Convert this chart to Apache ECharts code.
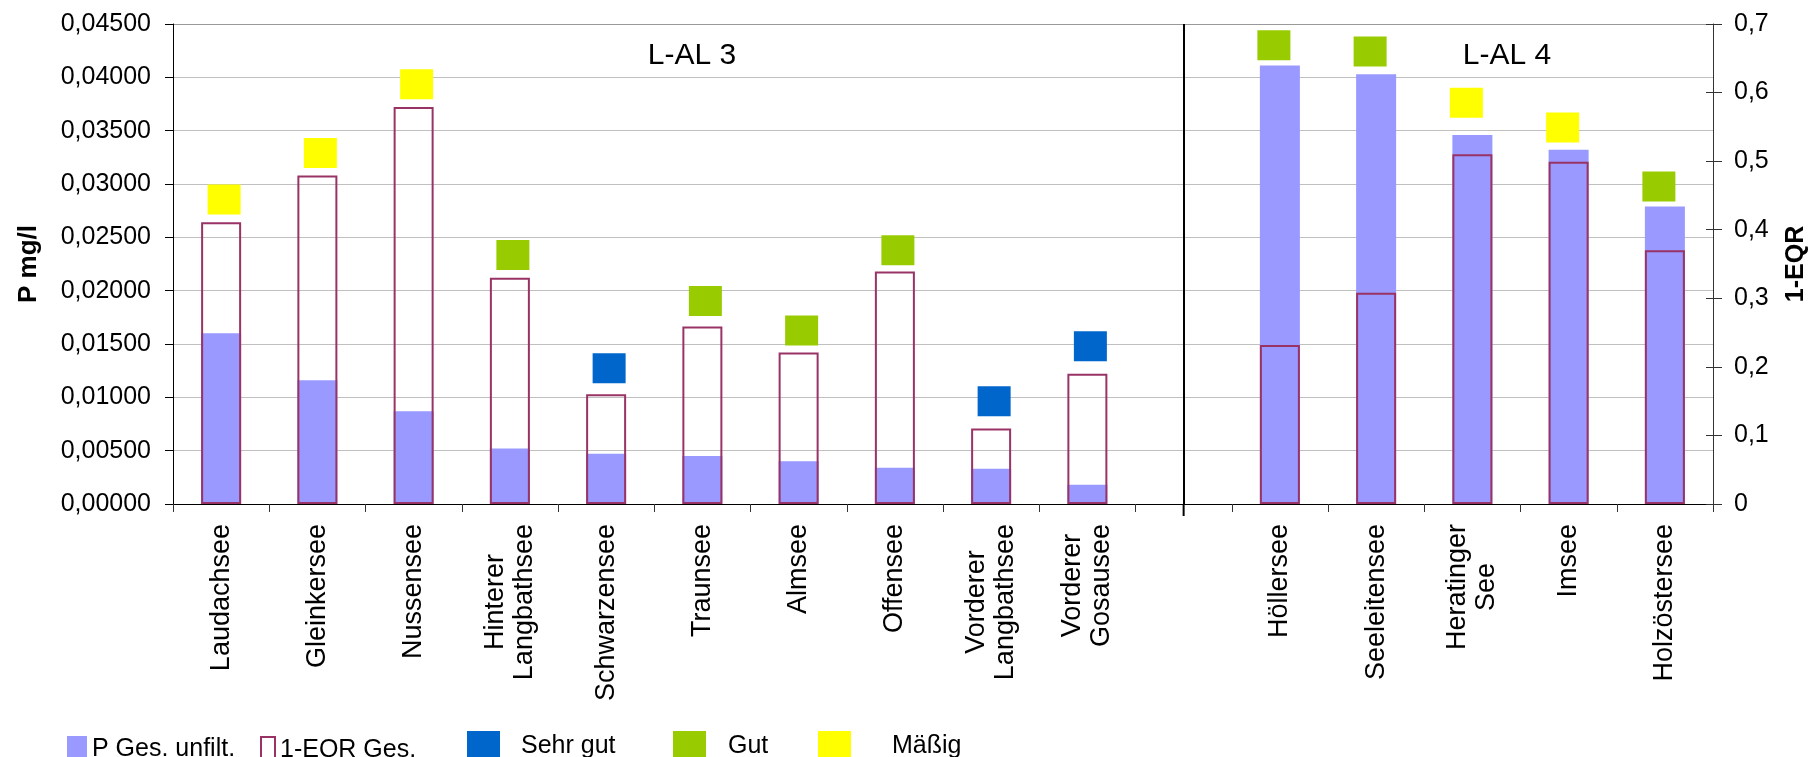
<!DOCTYPE html>
<html>
<head>
<meta charset="utf-8">
<script src="https://cdn.jsdelivr.net/npm/echarts@6/dist/echarts.min.js"></script>
<style>
html,body{margin:0;padding:0;background:#fff;}
#chart{width:1810px;height:757px;}
</style>
</head>
<body>
<div id="chart"></div>
<script>
// ---- data ----
const categories = ['Laudachsee','Gleinkersee','Nussensee','Hinterer\nLangbathsee','Schwarzensee','Traunsee','Almsee','Offensee','Vorderer\nLangbathsee','Vorderer\nGosausee','','Höllersee','Seeleitensee','Heratinger\nSee','Imsee','Holzöstersee'];
const pGes = [0.0160, 0.0116, 0.0087, 0.0052, 0.0047, 0.0045, 0.0040, 0.0034, 0.0033, 0.0018, null, 0.0411, 0.0403, 0.0346, 0.0332, 0.0279];
const eqrGes = [0.411, 0.479, 0.579, 0.330, 0.160, 0.259, 0.221, 0.339, 0.110, 0.190, null, 0.232, 0.308, 0.510, 0.499, 0.370];
const sehrGut = [null, null, null, null, 0.198, null, null, null, 0.150, 0.230, null, null, null, null, null, null];
const gut = [null, null, null, 0.363, null, 0.296, 0.253, 0.370, null, null, null, 0.669, 0.660, null, null, 0.463];
const maessig = [0.444, 0.512, 0.612, null, null, null, null, null, null, null, null, null, null, 0.585, 0.549, null];
const groupLabels = ['L-AL 3', 'L-AL 4'];
const dividerIndex = 10;

// ---- styles ----
const FONT = "'Liberation Sans', Arial, sans-serif";

const chart = echarts.init(document.getElementById('chart'), null, {renderer: 'canvas'});

function markerData(arr) {
  return arr.map((v, i) => ({value: v, symbolOffset: [i < dividerIndex ? 3 : -6, 0]}));
}
function markerSeries(name, color, arr) {
  return {
    name: name, type: 'scatter', xAxisIndex: 0, yAxisIndex: 1,
    symbol: 'rect', symbolSize: [33, 30],
    itemStyle: {color: color, opacity: 1},
    data: markerData(arr), z: 5
  };
}
function markerLegend(name, left, pad) {
  return {left: left, top: 726, itemWidth: 33, itemHeight: 30, itemGap: 0,
    textStyle: {fontSize: 25, fontFamily: FONT, color: '#000', padding: [0, 0, 0, pad]},
    data: [{name: name, icon: 'rect'}]};
}

const option = {
  animation: false,
  backgroundColor: '#fff',
  textStyle: {fontFamily: FONT},
  grid: {left: 173, right: 97, top: 24, bottom: 253, containLabel: false, outerBoundsMode: 'none'},
  legend: [
    {left: 62, top: 731, itemWidth: 20, itemHeight: 26, itemGap: 0,
     textStyle: {fontSize: 25, fontFamily: FONT, color: '#000'},
     data: [{name: 'P Ges. unfilt.', icon: 'rect'}]},
    {left: 255, top: 731, itemWidth: 14, itemHeight: 26, itemGap: 0,
     textStyle: {fontSize: 25, fontFamily: FONT, color: '#000'},
     data: [{name: '1-EQR Ges.', icon: 'rect', itemStyle: {color: '#fff', borderColor: '#993366', borderWidth: 2}}]},
    markerLegend('Sehr gut', 462, 16),
    markerLegend('Gut', 668, 17),
    markerLegend('Mäßig', 813, 36)
  ],
  xAxis: [{
    type: 'category', data: categories,
    axisLine: {show: true, lineStyle: {color: '#000', width: 1}},
    axisTick: {show: true, interval: 0, length: 8, lineStyle: {color: '#333'}},
    axisLabel: {
      interval: 0, rotate: 90, margin: 20, fontSize: 27, fontFamily: FONT, color: '#000', lineHeight: 29,
      formatter: function (v) {
        if (v.indexOf('\n') >= 0) return v.split('\n').map(l => '{c|' + l + '}').join('\n');
        return v;
      },
      rich: {c: {align: 'center', fontSize: 27, fontFamily: FONT, color: '#000', lineHeight: 29}}
    },
    splitLine: {show: false}
  }],
  yAxis: [{
    type: 'value', min: 0, max: 0.045, interval: 0.005, position: 'left',
    name: 'P mg/l', nameLocation: 'middle', nameGap: 131, nameRotate: 90,
    nameTextStyle: {fontSize: 26, fontWeight: 'bold', fontFamily: FONT, color: '#000'},
    axisLine: {show: true, lineStyle: {color: '#000', width: 1}},
    axisTick: {show: true, length: 8, lineStyle: {color: '#000'}},
    axisLabel: {margin: 22, fontSize: 25, fontFamily: FONT, color: '#000',
      formatter: v => v.toFixed(5).replace('.', ',')},
    splitLine: {show: true, lineStyle: {color: ['#c0c0c0','#c0c0c0','#c0c0c0','#c0c0c0','#c0c0c0','#c0c0c0','#c0c0c0','#c0c0c0','#c0c0c0','#999'], width: 1}}
  }, {
    type: 'value', min: 0, max: 0.7, interval: 0.1, position: 'right',
    name: '1-EQR', nameLocation: 'middle', nameGap: 71, nameRotate: 90,
    nameTextStyle: {fontSize: 25, fontWeight: 'bold', fontFamily: FONT, color: '#000'},
    axisLine: {show: true, lineStyle: {color: '#333', width: 1}},
    axisTick: {show: true, length: 9, lineStyle: {color: '#333'}},
    axisLabel: {margin: 21, fontSize: 25, fontFamily: FONT, color: '#000',
      formatter: v => v === 0 ? '0' : v.toFixed(1).replace('.', ',')},
    splitLine: {show: false}
  }, {
    // inner half of the crossing ticks on the right axis
    type: 'value', min: 0, max: 0.7, interval: 0.1, position: 'right',
    axisLine: {show: false},
    axisTick: {show: true, inside: true, length: 7, lineStyle: {color: '#333'}},
    axisLabel: {show: false},
    splitLine: {show: false}
  }],
  series: [
    {
      name: 'P Ges. unfilt.', type: 'bar', xAxisIndex: 0, yAxisIndex: 0,
      barWidth: 40, barGap: '-100%',
      itemStyle: {color: '#9999FF'},
      data: pGes, z: 2,
      markLine: {
        silent: true, symbol: ['none', 'none'], animation: false,
        label: {show: false},
        lineStyle: {color: '#000', width: 2, type: 'solid'},
        data: [{xAxis: dividerIndex}]
      }
    },
    {
      name: '1-EQR Ges.', type: 'bar', xAxisIndex: 0, yAxisIndex: 1,
      barWidth: 40, barGap: '-100%',
      itemStyle: {color: 'rgba(0,0,0,0)', borderColor: '#993366', borderWidth: 2},
      data: eqrGes, z: 3
    },
    markerSeries('Sehr gut', '#0066CC', sehrGut),
    markerSeries('Gut', '#99CC00', gut),
    markerSeries('Mäßig', '#FFFF00', maessig)
  ]
};
chart.setOption(option);

// group labels and divider extension below the axis, positioned through the chart's scales
const divX = chart.convertToPixel({xAxisIndex: 0}, dividerIndex);
const baseY = chart.convertToPixel({yAxisIndex: 0}, 0);
chart.setOption({
  graphic: [
    {type: 'text', x: 692, y: 56, style: {text: groupLabels[0], font: '30px ' + FONT, fill: '#000', align: 'center', verticalAlign: 'middle'}},
    {type: 'text', x: 1507, y: 56, style: {text: groupLabels[1], font: '30px ' + FONT, fill: '#000', align: 'center', verticalAlign: 'middle'}},
    {type: 'line', shape: {x1: divX, y1: baseY, x2: divX, y2: baseY + 12}, style: {stroke: '#000', lineWidth: 2}, silent: true}
  ]
});
</script>
</body>
</html>
